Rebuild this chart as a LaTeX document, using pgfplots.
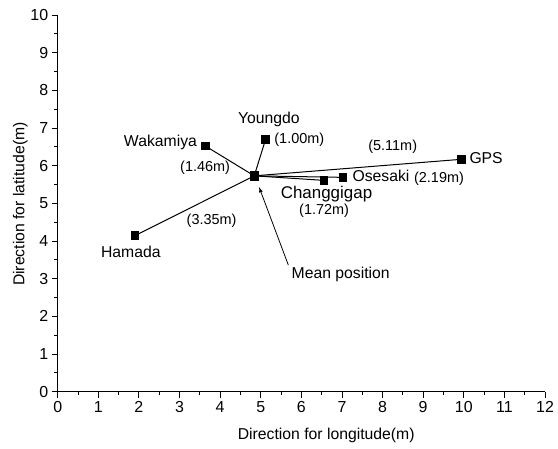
\documentclass[border=0pt]{standalone}
\usepackage{pgfplots}
\pgfplotsset{compat=1.18}
\usepackage{fontspec}
\setmainfont{Liberation Sans}
\newcommand{\lf}{\fontsize{15.8}{18}\selectfont}
\newcommand{\pf}{\fontsize{14.5}{17}\selectfont}
\begin{document}
\begin{tikzpicture}
\useasboundingbox (-57.7bp,-57.3bp) rectangle (500.3bp,391.7bp);
\begin{axis}[
  scale only axis, width=487.3bp, height=376.7bp,
  xmin=0, xmax=12, ymin=0, ymax=10,
  axis x line*=bottom, axis y line*=left,
  xtick={0,...,12}, ytick={0,...,10},
  minor x tick num=1, minor y tick num=1,
  tick align=outside, major tick length=6bp, minor tick length=3.5bp,
  tick style={black, line width=0.9bp},
  axis line style={line width=1bp},
  ticklabel style={font=\fontsize{16}{19}\selectfont},
  /pgf/number format/assume math mode=true,
  xlabel={Direction for longitude(m)},
  ylabel={Direction for latitude(m)},
  xlabel style={font=\lf, at={(axis description cs:0.551,-0.1155)}, anchor=center},
  ylabel style={font=\lf, at={(axis description cs:-0.077,0.498)}, anchor=center},
  clip=false,
  spoke/.style={black, solid, line width=1bp, mark=square*, mark size=3.8bp, mark options={solid, fill=black}},
]
% spokes from mean position (4.84,5.73)
\addplot[spoke] coordinates {(4.84,5.73) (3.64,6.52)};
\addplot[spoke] coordinates {(4.84,5.73) (5.12,6.70)};
\addplot[spoke] coordinates {(4.84,5.73) (1.90,4.14)};
\addplot[spoke] coordinates {(4.84,5.73) (9.95,6.17)};
\addplot[spoke] coordinates {(4.84,5.73) (7.03,5.69)};
\addplot[spoke] coordinates {(4.84,5.73) (6.56,5.61)};
\addplot[spoke, mark size=4.2bp] coordinates {(4.84,5.73)};
% annotations
\draw[-latex, line width=0.8bp] (axis cs:5.68,3.36) -- (axis cs:4.96,5.43);
\node[font=\lf, anchor=base] at (axis cs:2.53,6.50) {Wakamiya};
\node[font=\pf, anchor=base] at (axis cs:3.63,5.84) {(1.46m)};
\node[font=\lf, anchor=base] at (axis cs:5.20,7.11) {Youngdo};
\node[font=\pf, anchor=base] at (axis cs:5.95,6.59) {(1.00m)};
\node[font=\pf, anchor=base] at (axis cs:8.25,6.39) {(5.11m)};
\node[font=\lf, anchor=base] at (axis cs:10.55,6.06) {GPS};
\node[font=\lf, anchor=base] at (axis cs:7.96,5.57) {Osesaki};
\node[font=\pf, anchor=base] at (axis cs:9.39,5.55) {(2.19m)};
\node[font=\fontsize{17}{20}\selectfont, anchor=base] at (axis cs:6.62,5.13) {Changgigap};
\node[font=\pf, anchor=base] at (axis cs:6.56,4.71) {(1.72m)};
\node[font=\pf, anchor=base] at (axis cs:3.79,4.45) {(3.35m)};
\node[font=\lf, anchor=base] at (axis cs:1.80,3.57) {Hamada};
\node[font=\lf, anchor=base] at (axis cs:6.97,3.01) {Mean position};
\end{axis}
\end{tikzpicture}
\end{document}
